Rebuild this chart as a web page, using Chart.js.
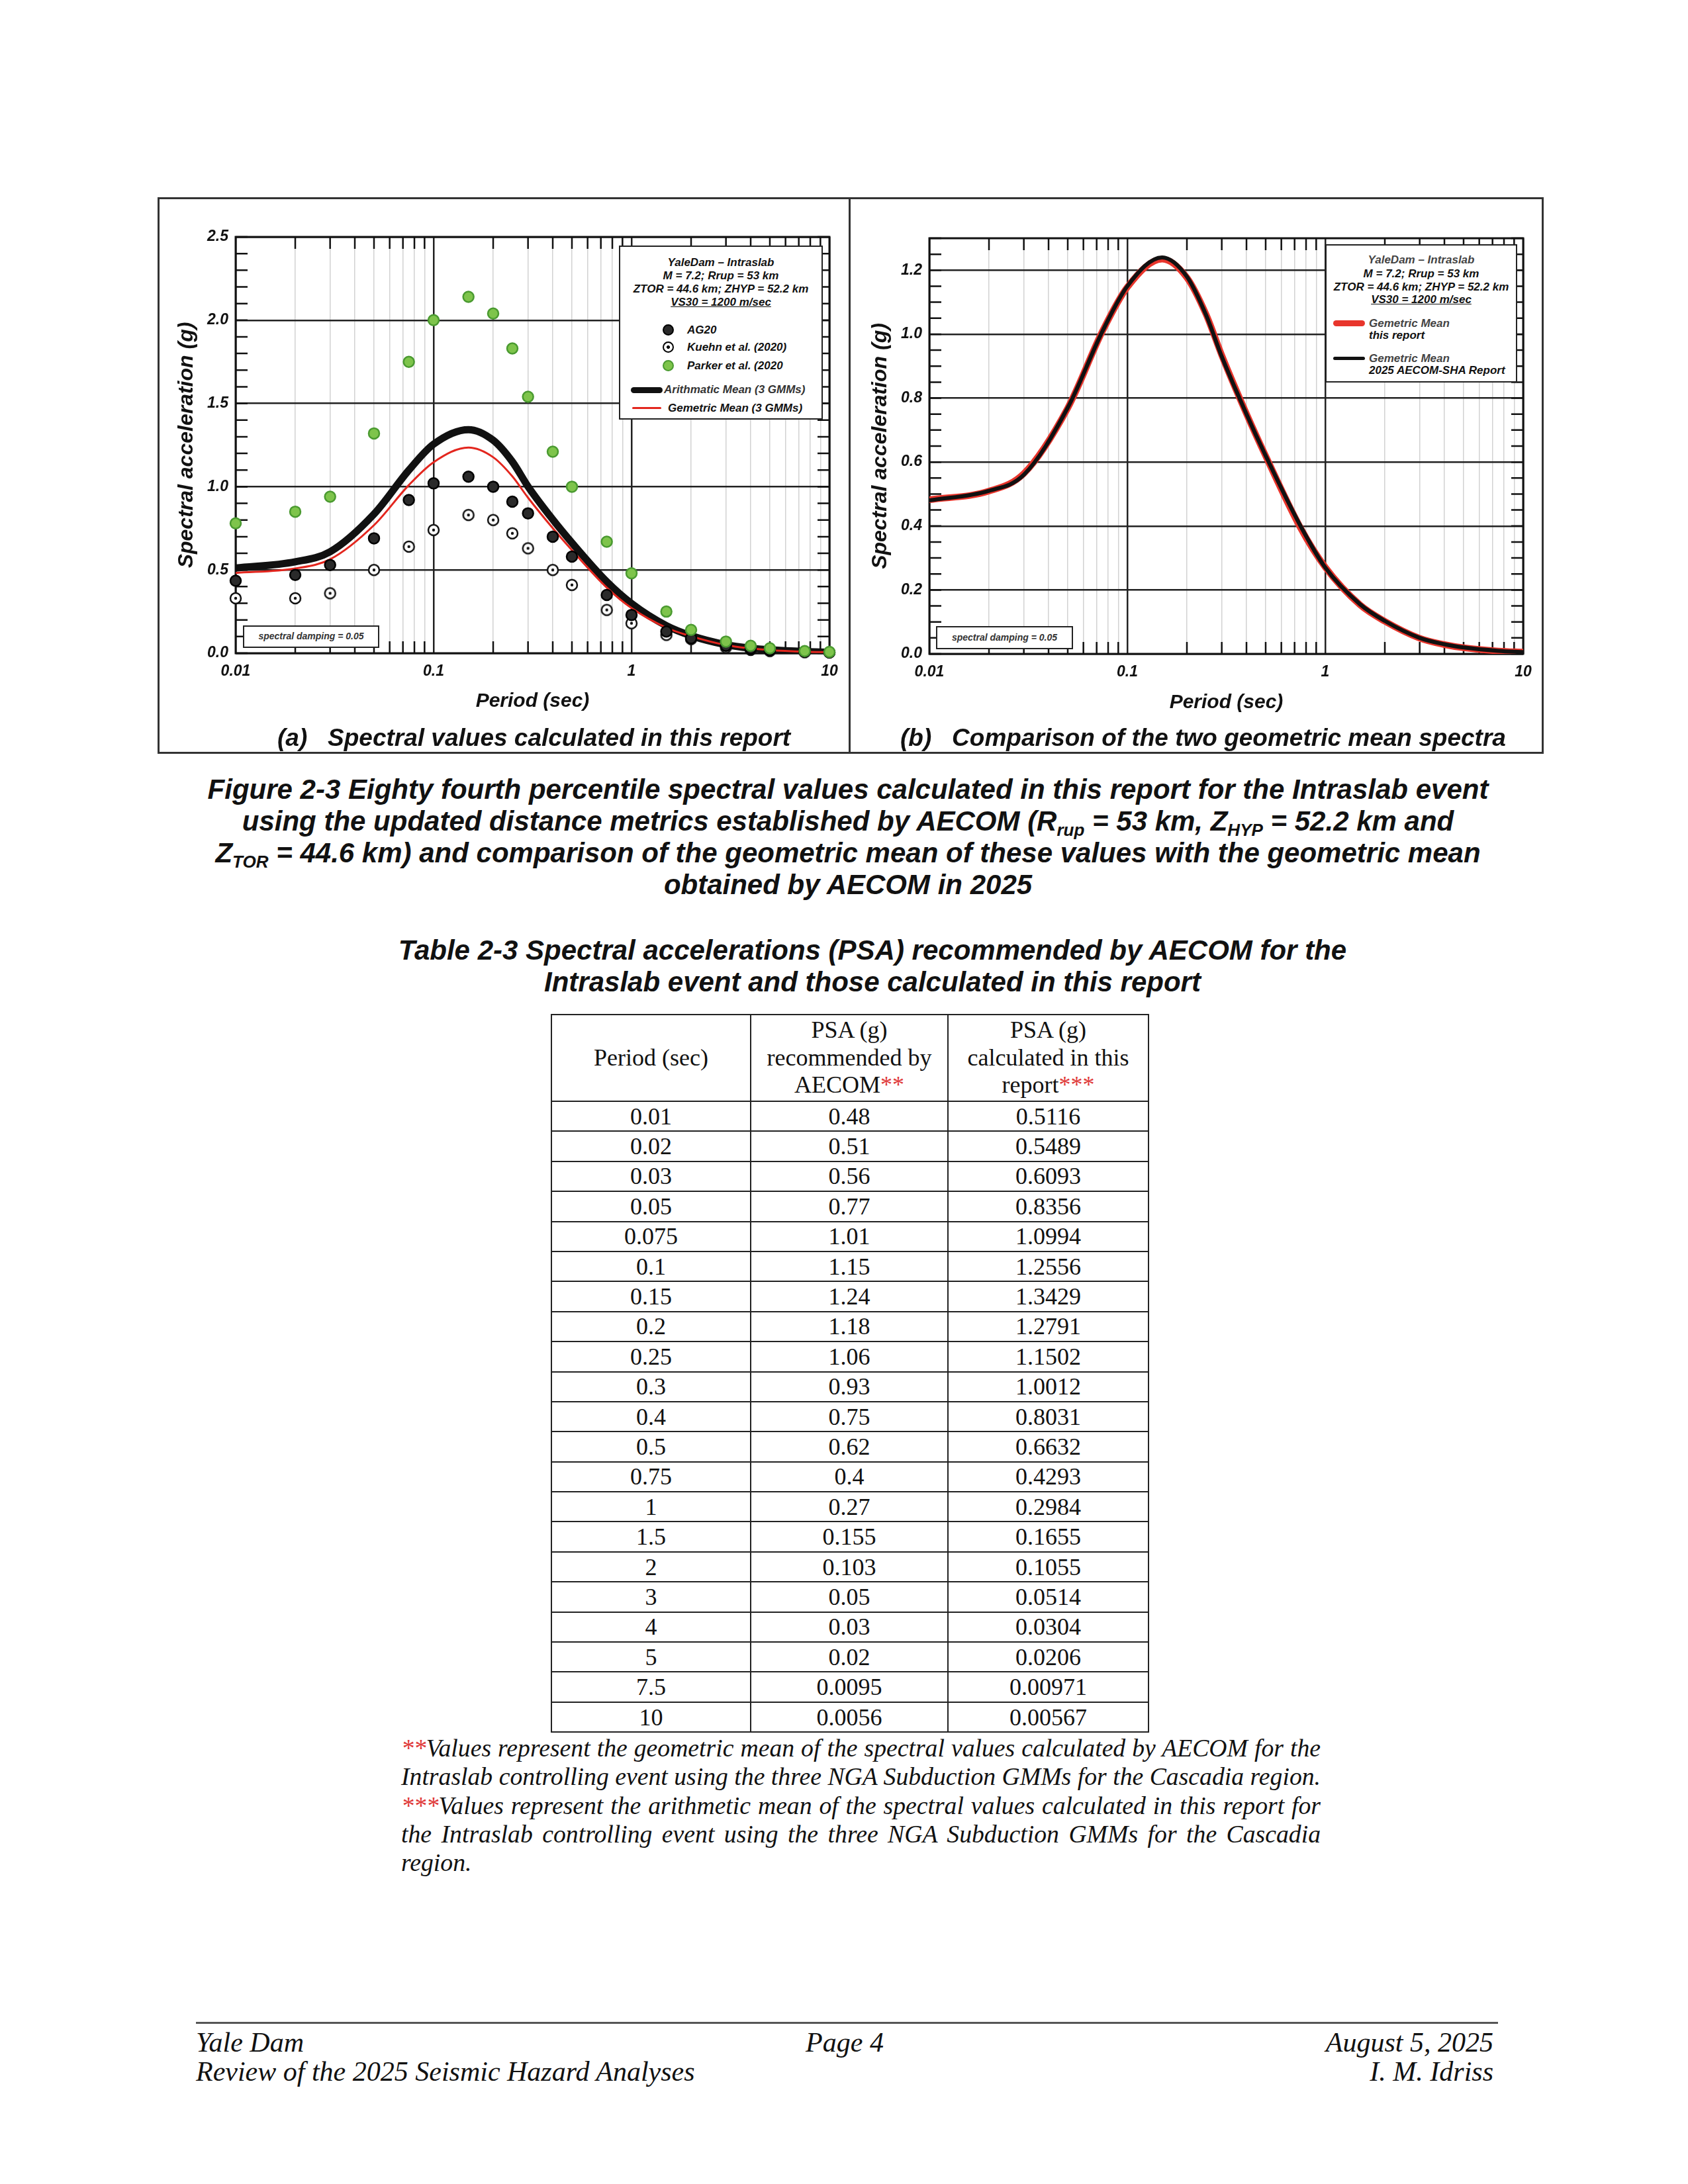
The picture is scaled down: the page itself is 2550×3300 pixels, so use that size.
<!DOCTYPE html>
<html>
<head>
<meta charset="utf-8">
<script src="https://cdn.jsdelivr.net/npm/chart.js@4.4.1/dist/chart.umd.min.js"></script>
<style>
  body { margin: 0; background: #fff; }
  #page { position: relative; width: 2550px; height: 3300px; background: #fff; overflow: hidden; }
  .abs { position: absolute; }
  .sans { font-family: 'Liberation Sans', Arial, sans-serif; font-weight: bold; font-style: italic; color: #111; }
  .serif { font-family: 'Liberation Serif', 'Times New Roman', serif; color: #111; }
  .frame { border: 3px solid #333; box-sizing: border-box; }
  .legend { background: #fff; border: 2.5px solid #222; box-sizing: border-box; }
  .legend .t { position: absolute; left: 0; width: 100%; text-align: center; font-size: 17px; line-height: 20px; white-space: nowrap; }
  .legend .it { position: absolute; font-size: 17px; line-height: 20px; white-space: nowrap; }
  .mk { position: absolute; width: 17px; height: 17px; border-radius: 50%; box-sizing: border-box; }
  .ln { position: absolute; border-radius: 5px; }
  .damp { background: #fff; border: 2.5px solid #222; box-sizing: border-box; font-size: 14px; text-align: center; color: #333; }
  .sb { font-size: 0.62em; position: relative; top: 0.32em; line-height: 0; }
  table.psa { border-collapse: collapse; table-layout: fixed; }
  table.psa td { border: 2.5px solid #222; text-align: center; padding: 0; font-size: 36px; line-height: 1; }
  .red { color: #e03a3a; }
  .fn div { white-space: nowrap; }
  .fn.just div { text-align: justify; text-align-last: justify; }
  .fn.just div.last { text-align-last: left; }
</style>
</head>
<body>
<div id="page">

  <div class="abs frame" style="left:238px; top:298px; width:2094px; height:841px;"></div>
  <div class="abs" style="left:1282px; top:298px; width:3px; height:841px; background:#333;"></div>

  <canvas id="chartA" class="abs" width="1040" height="800" style="left:240px; top:300px; width:1040px; height:800px;"></canvas>
  <canvas id="chartB" class="abs" width="1040" height="800" style="left:1290px; top:300px; width:1040px; height:800px;"></canvas>

  <!-- legend (a) -->
  <div class="abs legend sans" style="left:935px; top:371px; width:308px; height:263px;">
    <div class="t" style="top:14px;">YaleDam – Intraslab</div>
    <div class="t" style="top:34px;">M = 7.2; Rrup = 53 km</div>
    <div class="t" style="top:54px;">ZTOR = 44.6 km; ZHYP = 52.2 km</div>
    <div class="t" style="top:74px;"><u>VS30 = 1200 m/sec</u></div>
    <div class="mk" style="left:64px; top:117px; background:#2a2a2a; border:2.5px solid #000;"></div>
    <div class="it" style="left:101px; top:116px;">AG20</div>
    <div class="mk" style="left:64px; top:143px; background:radial-gradient(circle, #000 0 2.2px, #fff 2.8px); border:2.5px solid #000;"></div>
    <div class="it" style="left:101px; top:142px;">Kuehn et al. (2020)</div>
    <div class="mk" style="left:64px; top:171px; background:#7ec44b; border:2.5px solid #4a9a30;"></div>
    <div class="it" style="left:101px; top:170px;">Parker et al. (2020</div>
    <div class="ln" style="left:16px; top:212px; width:48px; height:9px; background:#111;"></div>
    <div class="it" style="left:66px; top:206px; color:#333;">Arithmatic Mean (3 GMMs)</div>
    <div class="ln" style="left:18px; top:242px; width:44px; height:3px; background:#e3261e;"></div>
    <div class="it" style="left:72px; top:234px;">Gemetric Mean (3 GMMs)</div>
  </div>

  <!-- legend (b) -->
  <div class="abs legend sans" style="left:2002px; top:369px; width:290px; height:209px;">
    <div class="t" style="top:12px; color:#444;">YaleDam – Intraslab</div>
    <div class="t" style="top:33px;">M = 7.2; Rrup = 53 km</div>
    <div class="t" style="top:53px;">ZTOR = 44.6 km; ZHYP = 52.2 km</div>
    <div class="t" style="top:72px;"><u>VS30 = 1200 m/sec</u></div>
    <div class="ln" style="left:10px; top:113px; width:48px; height:9px; background:#e8352c;"></div>
    <div class="it" style="left:64px; top:108px; color:#444;">Gemetric Mean</div>
    <div class="it" style="left:64px; top:126px;">this report</div>
    <div class="ln" style="left:10px; top:168px; width:48px; height:5px; background:#111;"></div>
    <div class="it" style="left:64px; top:161px; color:#444;">Gemetric Mean</div>
    <div class="it" style="left:64px; top:179px;">2025 AECOM-SHA Report</div>
  </div>

  <div class="abs damp sans" style="left:367px; top:945px; width:206px; height:34px; line-height:29px;">spectral damping = 0.05</div>
  <div class="abs damp sans" style="left:1414px; top:946px; width:207px; height:35px; line-height:30px;">spectral damping = 0.05</div>

  <div class="abs sans" style="left:419px; top:1094px; font-size:37px; line-height:42px; white-space:pre;">(a)   Spectral values calculated in this report</div>
  <div class="abs sans" style="left:1360px; top:1094px; font-size:37px; line-height:42px; white-space:pre;">(b)   Comparison of the two geometric mean spectra</div>

  <div class="abs sans" style="left:281px; top:1169px; width:2000px; text-align:center; font-size:42px; line-height:48px; white-space:nowrap;">Figure 2-3 Eighty fourth percentile spectral values calculated in this report for the Intraslab event<br>using the updated distance metrics established by AECOM (R<span class="sb">rup</span> = 53 km, Z<span class="sb">HYP</span> = 52.2 km and<br>Z<span class="sb">TOR</span> = 44.6 km) and comparison of the geometric mean of these values with the geometric mean<br>obtained by AECOM in 2025</div>

  <div class="abs sans" style="left:318px; top:1412px; width:2000px; text-align:center; font-size:42px; line-height:48px; white-space:nowrap;">Table 2-3 Spectral accelerations (PSA) recommended by AECOM for the<br>Intraslab event and those calculated in this report</div>

  <table id="psaTable" class="abs psa serif" style="left:832px; top:1532px; width:902px;">
    <colgroup><col style="width:301px"><col style="width:298px"><col style="width:303px"></colgroup>
    <tr style="height:131px;">
      <td style="line-height:41.5px;">Period (sec)</td>
      <td style="line-height:41.5px;">PSA (g)<br>recommended by<br>AECOM<span class="red">**</span></td>
      <td style="line-height:41.5px;">PSA (g)<br>calculated in this<br>report<span class="red">***</span></td>
    </tr>
  </table>

  <div id="fn" class="abs fn serif" style="left:606px; top:2620px; width:1389px; font-size:34px; line-height:43.3px; font-style:italic;">
    <div><span><span class="red">**</span>Values represent the geometric mean of the spectral values calculated by AECOM for the</span></div>
    <div><span>Intraslab controlling event using the three NGA Subduction GMMs for the Cascadia region.</span></div>
    <div><span><span class="red">***</span>Values represent the arithmetic mean of the spectral values calculated in this report for</span></div>
    <div><span>the Intraslab controlling event using the three NGA Subduction GMMs for the Cascadia</span></div>
    <div class="last"><span>region.</span></div>
  </div>

  <div class="abs" style="left:296px; top:3055px; width:1967px; height:3px; background:#555;"></div>
  <div class="abs serif" style="left:296px; top:3064px; font-size:42px; line-height:44px; font-style:italic; white-space:nowrap;">Yale Dam<br>Review of the 2025 Seismic Hazard Analyses</div>
  <div class="abs serif" style="left:1076px; top:3064px; width:400px; text-align:center; font-size:42px; line-height:44px; font-style:italic;">Page 4</div>
  <div class="abs serif" style="left:1856px; top:3064px; width:400px; text-align:right; font-size:42px; line-height:44px; font-style:italic; white-space:nowrap;">August 5, 2025<br>I. M. Idriss</div>
</div>

<script>
// periods (sec) used for all spectra and the table
const periods = [0.01, 0.02, 0.03, 0.05, 0.075, 0.1, 0.15, 0.2, 0.25, 0.3, 0.4, 0.5, 0.75, 1, 1.5, 2, 3, 4, 5, 7.5, 10];

// table columns
const psaAecom = [0.48, 0.51, 0.56, 0.77, 1.01, 1.15, 1.24, 1.18, 1.06, 0.93, 0.75, 0.62, 0.4, 0.27, 0.155, 0.103, 0.05, 0.03, 0.02, 0.0095, 0.0056];
const psaThisReport = [0.5116, 0.5489, 0.6093, 0.8356, 1.0994, 1.2556, 1.3429, 1.2791, 1.1502, 1.0012, 0.8031, 0.6632, 0.4293, 0.2984, 0.1655, 0.1055, 0.0514, 0.0304, 0.0206, 0.00971, 0.00567];

// individual GMM points
const ag20 = [0.435, 0.47, 0.53, 0.69, 0.92, 1.02, 1.06, 1.00, 0.91, 0.84, 0.70, 0.58, 0.35, 0.23, 0.13, 0.09, 0.045, 0.028, 0.018, 0.009, 0.005];
const kuehn = [0.33, 0.33, 0.36, 0.50, 0.64, 0.74, 0.83, 0.80, 0.72, 0.63, 0.50, 0.41, 0.26, 0.18, 0.11, 0.085, 0.035, 0.02, 0.013, 0.006, 0.004];
const parker = [0.78, 0.85, 0.94, 1.32, 1.75, 2.00, 2.14, 2.04, 1.83, 1.54, 1.21, 1.00, 0.67, 0.48, 0.25, 0.14, 0.07, 0.045, 0.03, 0.013, 0.008];

// geometric mean of this report (red curves)
const geoMeanThis = [0.482, 0.509, 0.564, 0.769, 1.01, 1.147, 1.235, 1.177, 1.062, 0.934, 0.751, 0.619, 0.394, 0.271, 0.153, 0.102, 0.049, 0.029, 0.019, 0.009, 0.0055];

// axes
const xDecades = [0.01, 0.1, 1, 10];
const xDecadeLabels = ['0.01', '0.1', '1', '10'];
const xMultipliers = [1, 2, 3, 4, 5, 6, 7, 8, 9];

// fill the table
const tbl = document.getElementById('psaTable');
periods.forEach((p, i) => {
    const tr = document.createElement('tr');
    tr.style.height = '45.4px';
    [p, psaAecom[i], psaThisReport[i]].forEach(v => {
        const td = document.createElement('td');
        td.textContent = String(v);
        tr.appendChild(td);
    });
    tbl.appendChild(tr);
});

// footnote: size the font so the widest line just fills the block, then justify
const fn = document.getElementById('fn');
let widest = 0;
fn.querySelectorAll('div > span').forEach(s => { widest = Math.max(widest, s.getBoundingClientRect().width); });
fn.style.fontSize = (34 * 1389 / widest).toFixed(2) + 'px';
fn.classList.add('just');

const xTicks = [];
xDecades.slice(0, 3).forEach(d => xMultipliers.forEach(m => xTicks.push(+(d * m).toPrecision(3))));
xTicks.push(10);

const toXY = arr => periods.map((p, i) => ({x: p, y: arr[i]}));

// open circle with a dot for Kuehn et al.
const dotCircle = document.createElement('canvas');
dotCircle.width = 22; dotCircle.height = 22;
(function () {
    const c = dotCircle.getContext('2d');
    c.beginPath(); c.arc(11, 11, 8, 0, Math.PI * 2);
    c.fillStyle = '#fff'; c.fill();
    c.lineWidth = 2.5; c.strokeStyle = '#111'; c.stroke();
    c.beginPath(); c.arc(11, 11, 2.2, 0, Math.PI * 2);
    c.fillStyle = '#111'; c.fill();
})();

const frameTicks = {
    id: 'frameTicks',
    beforeDatasetsDraw(chart, args, opts) {
        const {ctx, chartArea: a, scales: {x, y}} = chart;
        ctx.save();
        ctx.strokeStyle = '#111';
        ctx.lineWidth = 2.5;
        ctx.beginPath();
        x.ticks.forEach(t => {
            if (xDecades.includes(t.value)) return;
            const px = x.getPixelForValue(t.value);
            ctx.moveTo(px, a.top); ctx.lineTo(px, a.top + opts.len);
            ctx.moveTo(px, a.bottom); ctx.lineTo(px, a.bottom - opts.len);
        });
        y.ticks.forEach(t => {
            const py = y.getPixelForValue(t.value);
            ctx.moveTo(a.left, py); ctx.lineTo(a.left + opts.len, py);
            ctx.moveTo(a.right, py); ctx.lineTo(a.right - opts.len, py);
        });
        ctx.stroke();
        ctx.lineWidth = 3;
        ctx.strokeRect(a.left, a.top, a.width, a.height);
        ctx.restore();
    }
};

const axisFont = size => ({family: "'Liberation Sans', Arial, sans-serif", size: size, weight: 'bold', style: 'italic'});

function makeOptions(yMax, yStep, yMajor, pad, yWidth, xHeight, yTitlePad, xTitlePad) {
    const isMajor = v => Math.abs(v / yMajor - Math.round(v / yMajor)) < 1e-6;
    return {
        responsive: false,
        animation: false,
        events: [],
        layout: {padding: pad},
        plugins: {legend: {display: false}, tooltip: {enabled: false}, frameTicks: {len: 18}},
        scales: {
            x: {
                type: 'logarithmic',
                min: 0.01,
                max: 10,
                afterBuildTicks: axis => { axis.ticks = xTicks.map(v => ({value: v})); },
                afterFit: axis => { axis.height = xHeight; },
                ticks: {
                    autoSkip: false,
                    maxRotation: 0,
                    padding: 14,
                    color: '#111',
                    font: axisFont(23),
                    callback: v => { const k = xDecades.indexOf(v); return k >= 0 ? xDecadeLabels[k] : ''; }
                },
                grid: {
                    drawTicks: false,
                    color: c => (c.tick && xDecades.includes(c.tick.value)) ? '#222' : '#d2d2d2',
                    lineWidth: c => (c.tick && xDecades.includes(c.tick.value)) ? 2.5 : 1.5
                },
                border: {display: false},
                title: {display: true, text: 'Period (sec)', color: '#111', font: axisFont(30), padding: {top: 0, bottom: xTitlePad}}
            },
            y: {
                min: 0,
                max: yMax,
                afterFit: axis => { axis.width = yWidth; },
                ticks: {
                    stepSize: yStep,
                    autoSkip: false,
                    padding: 11,
                    color: '#111',
                    font: axisFont(23),
                    callback: v => isMajor(v) ? v.toFixed(1) : ''
                },
                grid: {
                    drawTicks: false,
                    color: c => (c.tick && isMajor(c.tick.value)) ? '#222' : 'rgba(0,0,0,0)',
                    lineWidth: 2.5
                },
                border: {display: false},
                title: {display: true, text: 'Spectral acceleration (g)', color: '#111', font: axisFont(32), padding: {top: yTitlePad, bottom: 0}}
            }
        }
    };
}

const lineStyle = {pointRadius: 0, fill: false, cubicInterpolationMode: 'monotone', borderCapStyle: 'round', borderJoinStyle: 'round'};

new Chart(document.getElementById('chartA'), {
    type: 'line',
    data: {
        datasets: [
            {label: 'Parker et al. (2020', data: toXY(parker), showLine: false, pointRadius: 8,
             pointBackgroundColor: '#7ec44b', pointBorderColor: '#4a9a30', pointBorderWidth: 2.5, clip: false},
            {label: 'AG20', data: toXY(ag20), showLine: false, pointRadius: 8,
             pointBackgroundColor: '#2a2a2a', pointBorderColor: '#000', pointBorderWidth: 2.5, clip: false},
            {label: 'Kuehn et al. (2020)', data: toXY(kuehn), showLine: false, pointRadius: 8,
             pointStyle: dotCircle, clip: false},
            Object.assign({label: 'Gemetric Mean (3 GMMs)', data: toXY(geoMeanThis), borderColor: '#e3261e', borderWidth: 3}, lineStyle),
            Object.assign({label: 'Arithmatic Mean (3 GMMs)', data: toXY(psaThisReport), borderColor: '#111', borderWidth: 11}, lineStyle)
        ]
    },
    options: makeOptions(2.5, 0.1, 0.5, {top: 58, right: 27, left: 0, bottom: 0}, 116, 113, 23, 22),
    plugins: [frameTicks]
});

new Chart(document.getElementById('chartB'), {
    type: 'line',
    data: {
        datasets: [
            Object.assign({label: 'Gemetric Mean 2025 AECOM-SHA Report', data: toXY(psaAecom), borderColor: '#111', borderWidth: 6}, lineStyle),
            Object.assign({label: 'Gemetric Mean this report', data: toXY(geoMeanThis), borderColor: '#e8352c', borderWidth: 10}, lineStyle)
        ]
    },
    options: makeOptions(1.3, 0.05, 0.2, {top: 60, right: 29, left: 0, bottom: 0}, 114, 112, 21, 20),
    plugins: [frameTicks]
});
</script>
</body>
</html>
